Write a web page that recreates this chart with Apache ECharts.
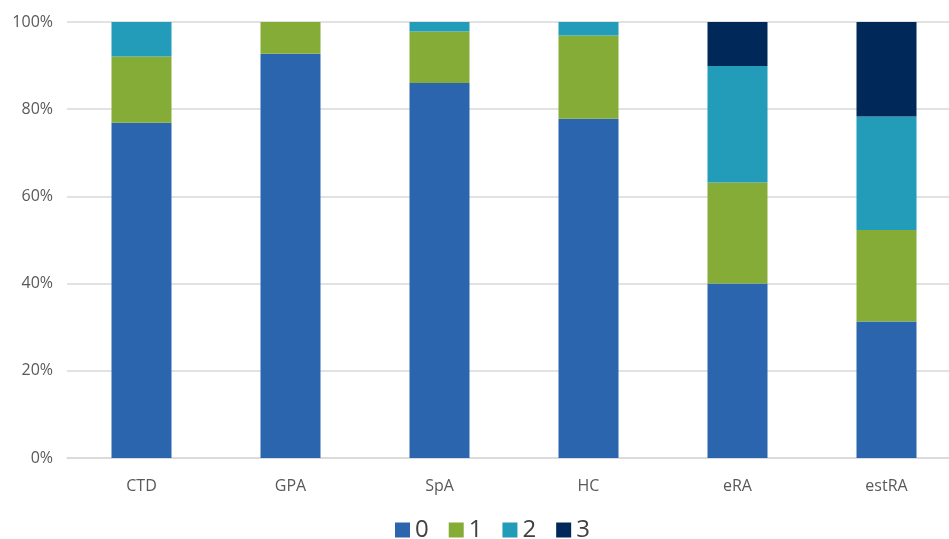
<!DOCTYPE html>
<html>
<head>
<meta charset="utf-8">
<script src="https://cdn.jsdelivr.net/npm/echarts@6/dist/echarts.min.js"></script>
<style>
  html, body { margin: 0; padding: 0; background: #fff; overflow: hidden; }
  #chart { width: 961px; height: 539px; }
</style>
</head>
<body>
<div id="chart"></div>
<script>
// categories and stacked shares (%)
const categories = ['CTD', 'GPA', 'SpA', 'HC', 'eRA', 'estRA']
const score0 = [76.9, 92.7, 86.0, 77.8, 40.0, 31.3]
const score1 = [15.2, 7.3, 11.8, 19.1, 23.2, 21.0]
const score2 = [7.9, 0, 2.2, 3.1, 26.7, 26.0]
const score3 = [0, 0, 0, 0, 10.1, 21.7]
const seriesNames = ['0', '1', '2', '3']
const colors = ['#2a65ad', '#86ac38', '#239cb9', '#002858']

// the plot runs a little past the right edge of the picture, so the div is wider than the window
const chart = echarts.init(document.getElementById('chart'))

const makeSeries = (name, data, color) => ({
    name: name,
    type: 'bar',
    stack: 'total',
    data: data,
    barWidth: 60,
    itemStyle: { color: color },
    emphasis: { disabled: true }
})

chart.setOption({
    animation: false,
    textStyle: { fontFamily: 'Open Sans, Liberation Sans, sans-serif' },
    grid: { left: 67, right: 0, top: 22, bottom: 81 },
    legend: {
        data: seriesNames,
        top: 513,
        left: 390,
        icon: 'rect',
        itemWidth: 15,
        itemHeight: 15,
        itemGap: 20,
        textStyle: { fontSize: 24, color: '#404040' }
    },
    xAxis: {
        type: 'category',
        data: categories,
        axisTick: { show: false },
        axisLine: { lineStyle: { color: '#d9d9d9', width: 1.5 } },
        axisLabel: { color: '#595959', fontSize: 16, margin: 20 }
    },
    yAxis: {
        type: 'value',
        min: 0,
        max: 100,
        interval: 20,
        axisLine: { show: false },
        axisTick: { show: false },
        splitLine: { lineStyle: { color: '#d9d9d9', width: 1.5 } },
        axisLabel: { color: '#595959', fontSize: 16, margin: 14, formatter: '{value}%' }
    },
    series: [
        makeSeries(seriesNames[0], score0, colors[0]),
        makeSeries(seriesNames[1], score1, colors[1]),
        makeSeries(seriesNames[2], score2, colors[2]),
        makeSeries(seriesNames[3], score3, colors[3])
    ]
})
</script>
</body>
</html>
